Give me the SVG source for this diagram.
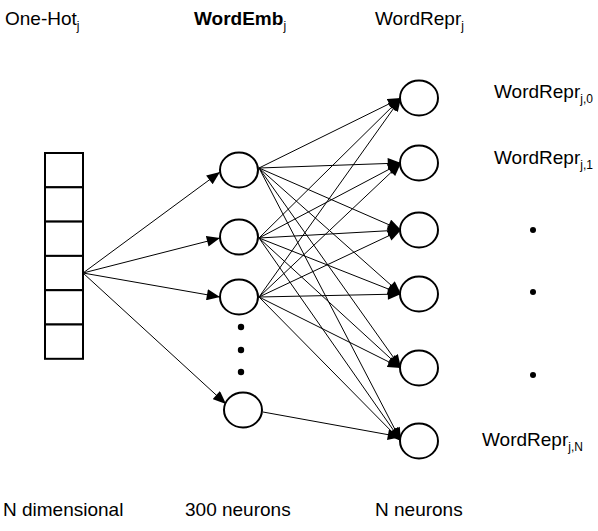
<svg xmlns="http://www.w3.org/2000/svg" width="598" height="531" viewBox="0 0 598 531">
<style>
text{font-family:"Liberation Sans",Arial,sans-serif;font-size:19px;fill:#000}
tspan{fill:#000}
.sub{font-size:12px;font-weight:normal}
.b{font-weight:bold}
.n{fill:#fff;stroke:#000;stroke-width:2}
.cell{fill:#fff;stroke:#000;stroke-width:2}
.c line{stroke:#000;stroke-width:1;marker-end:url(#ah)}
.dot{fill:#000}
</style>
<defs>
<marker id="ah" viewBox="0 0 12 10" refX="12" refY="5" markerWidth="14" markerHeight="11" markerUnits="userSpaceOnUse" orient="auto">
<path d="M0,0 L12,5 L0,10 z" fill="#000"/>
</marker>
</defs>
<rect width="598" height="531" fill="#fff"/>
<g id="labels">
<text x="5" y="25">One-Hot<tspan class="sub" dy="5">j</tspan></text>
<text x="194" y="25" class="b">WordEmb<tspan class="sub" dy="5">j</tspan></text>
<text x="375" y="25">WordRepr<tspan class="sub" dy="5">j</tspan></text>
<text x="3" y="516">N dimensional</text>
<text x="185" y="516">300 neurons</text>
<text x="375" y="516">N neurons</text>
<text x="494" y="98">WordRepr<tspan class="sub" dy="5">j,0</tspan></text>
<text x="494" y="164">WordRepr<tspan class="sub" dy="5">j,1</tspan></text>
<text x="482" y="446">WordRepr<tspan class="sub" dy="5">j,N</tspan></text>
<circle class="dot" cx="533" cy="230" r="3"/>
<circle class="dot" cx="533" cy="292" r="3"/>
<circle class="dot" cx="533" cy="375" r="3"/>
</g>
<g id="onehot">
<rect class="cell" x="45" y="153" width="38" height="34.3"/>
<rect class="cell" x="45" y="187.3" width="38" height="34.3"/>
<rect class="cell" x="45" y="221.6" width="38" height="34.3"/>
<rect class="cell" x="45" y="255.9" width="38" height="34.3"/>
<rect class="cell" x="45" y="290.2" width="38" height="34.3"/>
<rect class="cell" x="45" y="324.5" width="38" height="34.3"/>
</g>
<g class="c" id="connectors">
<line x1="83" y1="273" x2="220" y2="172"/>
<line x1="83" y1="273" x2="220" y2="238"/>
<line x1="83" y1="273" x2="220" y2="297"/>
<line x1="83" y1="273" x2="226" y2="404"/>
<line x1="259" y1="168" x2="401" y2="98"/>
<line x1="259" y1="168" x2="401" y2="163"/>
<line x1="259" y1="168" x2="401" y2="230"/>
<line x1="259" y1="168" x2="401" y2="294"/>
<line x1="259" y1="168" x2="401" y2="368"/>
<line x1="259" y1="168" x2="401" y2="441"/>
<line x1="259" y1="238" x2="401" y2="98"/>
<line x1="259" y1="238" x2="401" y2="163"/>
<line x1="259" y1="238" x2="401" y2="230"/>
<line x1="259" y1="238" x2="401" y2="294"/>
<line x1="259" y1="238" x2="401" y2="368"/>
<line x1="259" y1="238" x2="401" y2="441"/>
<line x1="259" y1="297" x2="401" y2="98"/>
<line x1="259" y1="297" x2="401" y2="163"/>
<line x1="259" y1="297" x2="401" y2="230"/>
<line x1="259" y1="297" x2="401" y2="294"/>
<line x1="259" y1="297" x2="401" y2="368"/>
<line x1="259" y1="297" x2="401" y2="441"/>
<line x1="263" y1="412" x2="401" y2="437"/>
</g>
<g id="emb1"><ellipse class="n" cx="239" cy="170" rx="19" ry="17.5"/></g>
<g id="emb2"><ellipse class="n" cx="239" cy="237" rx="19" ry="17.5"/></g>
<g id="emb3"><ellipse class="n" cx="239" cy="297" rx="19" ry="17.5"/></g>
<g id="emb-dots">
<circle class="dot" cx="241" cy="327" r="3.2"/>
<circle class="dot" cx="241" cy="350" r="3.2"/>
<circle class="dot" cx="241" cy="372" r="3.2"/>
</g>
<g id="emb4"><ellipse class="n" cx="243" cy="410" rx="19" ry="17.5"/></g>
<g id="repr0"><ellipse class="n" cx="419" cy="98" rx="19" ry="17.5"/></g>
<g id="repr1"><ellipse class="n" cx="419" cy="163" rx="19" ry="17.5"/></g>
<g id="repr2"><ellipse class="n" cx="419" cy="230" rx="19" ry="17.5"/></g>
<g id="repr3"><ellipse class="n" cx="419" cy="294" rx="19" ry="17.5"/></g>
<g id="repr4"><ellipse class="n" cx="419" cy="368" rx="19" ry="17.5"/></g>
<g id="repr5"><ellipse class="n" cx="419" cy="441" rx="19" ry="17.5"/></g>
</svg>
